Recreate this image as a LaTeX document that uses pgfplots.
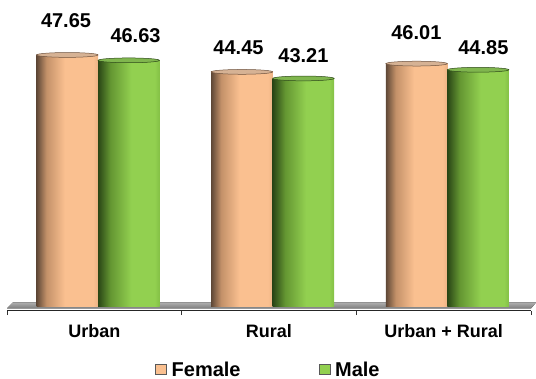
\documentclass[border=0pt]{standalone}
\usepackage{pgfplots}
\pgfplotsset{compat=1.18}
\usepackage{pgfplotstable}
\usepackage{fontspec}
\setmainfont{Liberation Sans}

\definecolor{fd}{RGB}{95,72,55}
\definecolor{fm}{RGB}{195,145,105}
\definecolor{fl}{RGB}{250,192,144}
\definecolor{fe}{RGB}{236,179,133}
\definecolor{fcapfill}{RGB}{214,178,148}
\definecolor{fcapline}{RGB}{110,82,62}
\definecolor{gd}{RGB}{42,70,22}
\definecolor{gm}{RGB}{100,150,50}
\definecolor{gl}{RGB}{146,208,80}
\definecolor{ge}{RGB}{132,192,70}
\definecolor{gcapfill}{RGB}{128,182,78}
\definecolor{gcapline}{RGB}{45,72,25}

\pgfdeclarehorizontalshading{femshade}{100bp}{color(0bp)=(fd); color(25bp)=(fd); color(33bp)=(fm); color(48bp)=(fl); color(71bp)=(fl); color(75bp)=(fe); color(100bp)=(fe)}
\pgfdeclarehorizontalshading{maleshade}{100bp}{color(0bp)=(gd); color(25bp)=(gd); color(35bp)=(gm); color(52bp)=(gl); color(71bp)=(gl); color(75bp)=(ge); color(100bp)=(ge)}

\pgfdeclareplotmark{cylcap}{%
  \pgfpathellipse{\pgfpointorigin}{\pgfqpoint{30.75pt}{0pt}}{\pgfqpoint{0pt}{2.4pt}}%
  \pgfusepathqfillstroke}

\pgfplotstableread{
x y dx dy
0 47.65 -1.25 26.6
1 44.45 -3.45 16.9
2 46.01 -0.25 23.6
}\female
\pgfplotstableread{
x y dx dy
0 46.63 6.75 17.6
1 43.21 0.0 15.1
2 44.85 5.25 14.7
}\male

\begin{document}
\begin{tikzpicture}
\useasboundingbox (0,0) rectangle (536pt,379pt);
\begin{axis}[
  at={(7pt,68.3pt)}, anchor=south west,
  scale only axis, width=524pt, height=305.2pt,
  xmin=-0.5, xmax=2.5, ymin=-0.7, ymax=57,
  clip=false,
  axis x line*=bottom, axis y line=none,
  axis line style={black!85, line width=0.7pt},
  xtick={-0.5,0.5,1.5,2.5},
  xticklabels={Urban,Rural,Urban + Rural},
  x tick label as interval,
  tick align=outside, major tick length=4.5pt,
  xtick style={black!80, line width=0.6pt},
  xticklabel style={font=\fontsize{18}{20}\selectfont\bfseries, anchor=base, yshift=-22.5pt},
  /pgf/number format/assume math mode=true,
  legend columns=2,
  legend style={draw=none, fill=none, at={(axis description cs:0.2824,-0.1927)}, anchor=west, inner sep=0pt,
    font=\fontsize{20}{22}\selectfont\bfseries,
    /tikz/every odd column/.append style={column sep=3pt},
    /tikz/every even column/.append style={column sep=76pt}},
  fbar/.style={ybar, bar width=61.5pt, bar shift=-27.05pt, draw=none, shade, shading=femshade, forget plot},
  mbar/.style={ybar, bar width=61.5pt, bar shift=34.45pt, draw=none, shade, shading=maleshade, forget plot},
  vlabels/.style={only marks, mark=cylcap, forget plot,
    nodes near coords={\pgfmathprintnumber[fixed,precision=2,fixed zerofill]{\pgfplotspointmeta}},
    visualization depends on={\thisrow{dx} \as \ldx},
    visualization depends on={\thisrow{dy} \as \ldy},
    every node near coord/.append style={font=\fontsize{20}{22}\selectfont\bfseries, anchor=south, inner sep=0pt, xshift=\ldx pt, yshift=\ldy pt}},
]
\fill[top color=black!32, bottom color=black!52] (axis cs:-0.5,-0.284) -- (axis cs:-0.4657,0.851) -- (axis cs:2.5286,0.851) -- (axis cs:2.5,-0.284) -- cycle;
\pgfplotsinvokeforeach{0,1,2}{
  \addplot[fbar, x filter/.expression={x==#1 ? x : nan}] table[x=x, y=y] {\female};
  \addplot[mbar, x filter/.expression={x==#1 ? x : nan}] table[x=x, y=y] {\male};
}
\addplot[vlabels, mark options={xshift=-27.05pt, fill=fcapfill, draw=fcapline, line width=0.5pt}] table[x=x, y=y] {\female};
\addplot[vlabels, mark options={xshift=34.45pt, fill=gcapfill, draw=gcapline, line width=0.5pt}] table[x=x, y=y] {\male};
\addlegendimage{legend image code/.code={\draw[draw=black!65, fill=fl, line width=0.5pt] (0pt,-4.8pt) rectangle (11pt,4.8pt);}}
\addlegendentry{Female}
\addlegendimage{legend image code/.code={\draw[draw=black!65, fill=gl, line width=0.5pt] (0pt,-4.8pt) rectangle (11pt,4.8pt);}}
\addlegendentry{Male}
\end{axis}
\end{tikzpicture}
\end{document}
